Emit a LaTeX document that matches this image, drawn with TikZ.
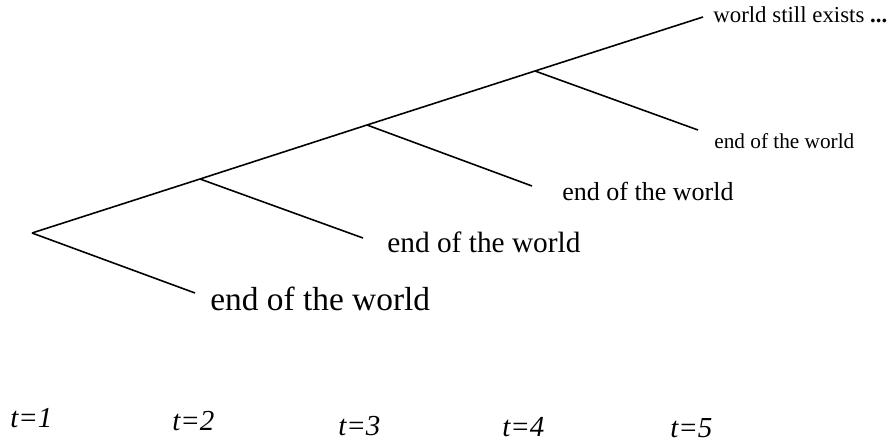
\documentclass[tikz,border=0pt]{standalone}
\usepackage{fontspec}
\setmainfont{Liberation Serif}
\usepackage{tikz}
\usetikzlibrary{positioning, calc}
\tikzset{
  outcome/.style={anchor=base west, inner sep=0pt},
  period/.style={anchor=base west, inner sep=0pt, font=\fontsize{16.5}{18}\selectfont\itshape},
  branch/.style={line width=0.9pt}
}

\begin{document}
\begin{tikzpicture}
    \useasboundingbox (0,0) rectangle (17.82,8.82);

    % Decision points on the main line
    \coordinate (root) at (0.64,4.16);
    \coordinate (p2)   at (4.00,5.24);
    \coordinate (p3)   at (7.34,6.32);
    \coordinate (p4)   at (10.70,7.40);
    \coordinate (last) at (14.06,8.48);

    % Ends of the side branches
    \coordinate (e1) at (3.90,2.96);
    \coordinate (e2) at (7.26,4.06);
    \coordinate (e3) at (10.64,5.10);
    \coordinate (e4) at (13.96,6.22);

    % Lines
    \draw[branch] (root) -- (p2) -- (p3) -- (p4) -- (last);
    \draw[branch] (root) -- (e1);
    \draw[branch] (p2) -- (e2);
    \draw[branch] (p3) -- (e3);
    \draw[branch] (p4) -- (e4);

    % Outcomes
    \node[outcome, font=\fontsize{19}{21}\selectfont]     (end1) at (4.20,2.62) {end of the world};
    \node[outcome, font=\fontsize{16.7}{19}\selectfont]   (end2) at (7.74,3.78) {end of the world};
    \node[outcome, font=\fontsize{14.8}{17}\selectfont]   (end3) at (11.24,4.82) {end of the world};
    \node[outcome, font=\fontsize{12.1}{14}\selectfont]   (end4) at (14.28,5.86) {end of the world};
    \node[outcome, font=\fontsize{13}{15}\selectfont]     (goon) at (14.26,8.38) {world still exists \textbf{...}};

    % Time axis labels
    \node[period] (t1) at (0.20,0.28)  {t=1};
    \node[period] (t2) at (3.44,0.22)  {t=2};
    \node[period] (t3) at (6.76,0.12)  {t=3};
    \node[period] (t4) at (10.04,0.10) {t=4};
    \node[period] (t5) at (13.40,0.08) {t=5};
  \end{tikzpicture}
\end{document}
